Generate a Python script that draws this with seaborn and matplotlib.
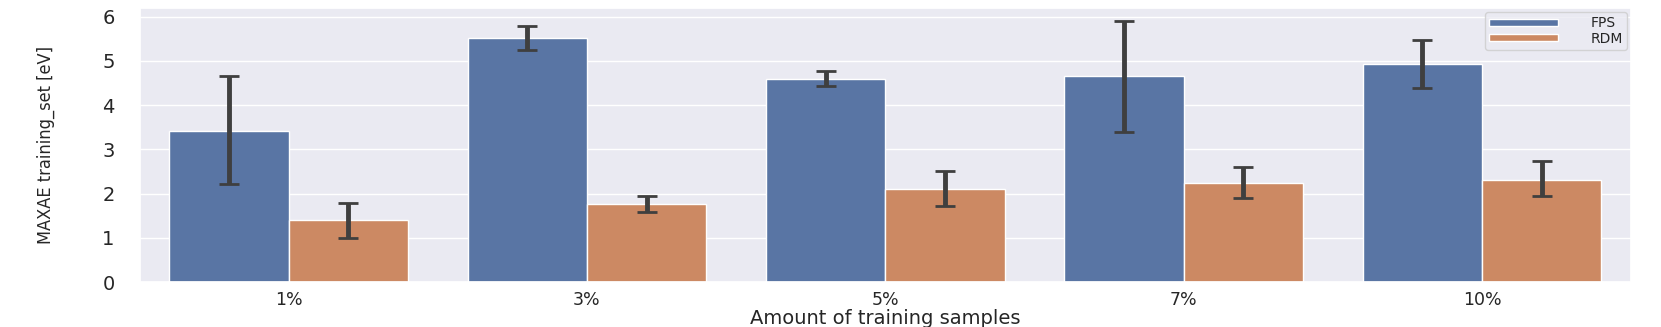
import numpy as np
import pandas as pd
import seaborn as sns
import matplotlib.pyplot as plt

# values
samples = ['1%', '3%', '5%', '7%', '10%']
methods = ['FPS', 'RDM']
fps_mean = [3.42, 5.51, 4.60, 4.65, 4.93]
fps_lo = [2.22, 5.25, 4.43, 3.40, 4.38]
fps_hi = [4.66, 5.80, 4.78, 5.91, 5.48]
rdm_mean = [1.40, 1.77, 2.11, 2.25, 2.32]
rdm_lo = [1.01, 1.58, 1.72, 1.91, 1.94]
rdm_hi = [1.80, 1.94, 2.51, 2.61, 2.73]

df = pd.DataFrame({
    'samples': samples * 2,
    'method': ['FPS'] * 5 + ['RDM'] * 5,
    'maxae': fps_mean + rdm_mean,
    'lo': fps_lo + rdm_lo,
    'hi': fps_hi + rdm_hi,
})

sns.set_theme(style='darkgrid')
plt.rcParams['font.family'] = ['DejaVu Sans']

fig, ax = plt.subplots(figsize=(16.61, 3.27), dpi=100)
fig.subplots_adjust(left=0.084, right=0.982, bottom=0.137, top=0.976)

sns.barplot(data=df, x='samples', y='maxae', hue='method', order=samples,
            hue_order=methods, errorbar=None, ax=ax)

# error bars on the bar centres
for cont, m in zip(ax.containers, methods):
    sub = df[df['method'] == m].set_index('samples').loc[samples]
    xs = [p.get_x() + p.get_width() / 2 for p in cont.patches]
    yerr = np.array([sub['maxae'] - sub['lo'], sub['hi'] - sub['maxae']])
    ax.errorbar(xs, sub['maxae'], yerr=yerr, fmt='none', ecolor='#3f3f3f',
                elinewidth=3.5, capsize=7.5, capthick=2, zorder=3)

ax.set_xlim(-0.5, 4.5)
ax.set_ylim(0, 6.2)
ax.set_yticks(range(7))
ax.tick_params(axis='y', labelsize=14, pad=12)
ax.tick_params(axis='x', labelsize=12.5, pad=0)
ax.set_xlabel('Amount of training samples', fontsize=14, labelpad=0)
ax.set_ylabel('MAXAE training_set [eV]', fontsize=13, fontstretch='condensed',
              labelpad=34)

ax.legend(loc='upper right', fontsize=10, handlelength=5, handleheight=0.4,
          handletextpad=2.3, borderaxespad=0.3, labelspacing=0.1,
          borderpad=0.3, title=None)

plt.savefig('out.png', dpi=100)
